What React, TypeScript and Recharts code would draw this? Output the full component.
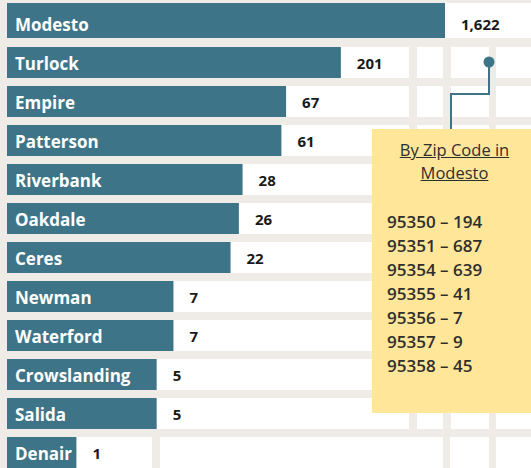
import React from 'react';
import { BarChart, Bar, XAxis, YAxis, LabelList, Rectangle } from 'recharts';

// cities and case counts
const cities = ['Modesto', 'Turlock', 'Empire', 'Patterson', 'Riverbank', 'Oakdale', 'Ceres', 'Newman', 'Waterford', 'Crowslanding', 'Salida', 'Denair'];
const counts = [1622, 201, 67, 61, 28, 26, 22, 7, 7, 5, 5, 1];

// Modesto breakdown shown in the callout
const zipCodes = ['95350', '95351', '95354', '95355', '95356', '95357', '95358'];
const zipCounts = [194, 687, 639, 41, 7, 9, 45];

const data = cities.map((name, i) => ({ name, value: counts[i] }));

const BAR = '#3e7487';
const GRID = '#efebe6';
const FONT = '"Open Sans", "Noto Sans", sans-serif';

// the first row of the sheet is a bit taller than the rest
const rowBox = (y: number, height: number, index: number) => (index === 0 ? { y: y - 5, height: height + 4 } : { y, height });

// white "cells" behind each row, with the sheet's column gaps
const RowCells = (props: any) => {
	const { x, width, index } = props;
	const { y, height } = rowBox(props.y, props.height, index);
	let gaps: number[][] = [[409, 417], [443, 451], [489, 496]];
	if (index === 0) gaps = [];
	if (index === cities.length - 1) gaps = [[152, 160], [443, 450], [489, 496]];
	return (
		<g>
			<rect x={x} y={y} width={width} height={height} fill='#fff' />
			{gaps.map((g, i) => (
				<rect key={i} x={g[0]} y={y} width={g[1] - g[0]} height={height} fill={GRID} />
			))}
		</g>
	);
};

const CityBar = (props: any) => {
	const { x, width, index, fill } = props;
	const { y, height } = rowBox(props.y, props.height, index);
	return <Rectangle x={x} y={y} width={width} height={height} fill={fill} />;
};

const NameLabel = (props: any) => {
	const { x, y, height, value } = props;
	return (
		<text x={x + 8} y={y + height / 2 + 1} dominantBaseline='central' fill='#fff' fontFamily={FONT} fontWeight={700} fontSize={17}>
			{value}
		</text>
	);
};

const ValueLabel = (props: any) => {
	const { x, y, width, height, value } = props;
	return (
		<text x={x + width + 16} y={y + height / 2} dominantBaseline='central' fill='#1a1a1a' fontFamily={FONT} fontWeight={700} fontSize={15}>
			{Number(value).toLocaleString('en-US')}
		</text>
	);
};

export default function App() {
	return (
		<div style={{ position: 'absolute', left: 0, top: 0, width: 531, height: 468, overflow: 'hidden', background: GRID }}>
			<BarChart width={531} height={472} data={data} layout='vertical' margin={{ top: 4, right: 0, bottom: 0, left: 7 }}>
				<XAxis type='number' scale='log' domain={[0.2486, 9100]} allowDataOverflow hide />
				<YAxis type='category' dataKey='name' hide />
				<Bar dataKey='value' fill={BAR} barSize={31} background={RowCells} shape={CityBar} isAnimationActive={false}>
					<LabelList dataKey='name' content={NameLabel} />
					<LabelList dataKey='value' content={ValueLabel} />
				</Bar>
			</BarChart>

			{/* connector from the Modesto value to the callout */}
			<svg width={531} height={468} style={{ position: 'absolute', left: 0, top: 0, pointerEvents: 'none' }}>
				<path d='M489 62 V94 H451 V130' fill='none' stroke={BAR} strokeWidth={2} />
				<circle cx={489} cy={62} r={5.5} fill={BAR} />
			</svg>

			<div
				style={{
					position: 'absolute',
					left: 372,
					top: 129,
					width: 159,
					height: 284,
					background: '#ffe699',
					fontFamily: FONT,
					color: '#2e2e2e',
					boxSizing: 'border-box',
					paddingTop: 9,
				}}
			>
				<div style={{ textAlign: 'center', fontSize: 16.5, lineHeight: '23px', textDecoration: 'underline', paddingLeft: 6 }}>
					By Zip Code in
					<br />
					Modesto
				</div>
				<div style={{ marginTop: 26, paddingLeft: 15, fontSize: 17, fontWeight: 600, lineHeight: '24px' }}>
					{zipCodes.map((z, i) => (
						<div key={z}>
							{z} – {zipCounts[i]}
						</div>
					))}
				</div>
			</div>
		</div>
	);
}
